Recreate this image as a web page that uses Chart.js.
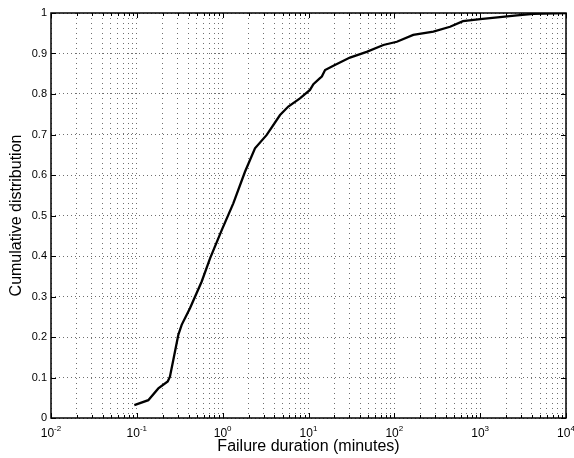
<!DOCTYPE html>
<html>
<head>
<meta charset="utf-8">
<script src="https://cdn.jsdelivr.net/npm/chart.js@4"></script>
<style>
  html, body { margin: 0; padding: 0; background: #fff; }
  #wrap { width: 574px; height: 458px; position: relative; }
</style>
</head>
<body>
<div id="wrap"><canvas id="cdfChart" width="574" height="458"></canvas></div>
<script>
const durations = [0.0935, 0.136, 0.178, 0.229, 0.243, 0.266, 0.304, 0.333, 0.416, 0.57,
  0.713, 0.975, 1.33, 1.82, 2.38, 3.26, 4.66, 5.82, 7.95, 10.4,
  11.4, 13.6, 14.3, 15.6, 19.5, 30.4, 47.6, 74.5, 107, 166,
  285, 446, 631, 1000, 1700, 2690, 4170, 10000];
const cdf = [0.032, 0.044, 0.073, 0.09, 0.102, 0.143, 0.205, 0.23, 0.271, 0.337,
  0.394, 0.464, 0.53, 0.608, 0.666, 0.699, 0.748, 0.769, 0.789, 0.81,
  0.824, 0.839, 0.843, 0.859, 0.87, 0.89, 0.904, 0.921, 0.929, 0.946,
  0.954, 0.966, 0.98, 0.985, 0.99, 0.994, 0.998, 1.0];

// x tick labels are 10 with these exponents
const decades = [-2, -1, 0, 1, 2, 3, 4];
const yTicks = [0, 0.1, 0.2, 0.3, 0.4, 0.5, 0.6, 0.7, 0.8, 0.9, 1];

const FONT = 'Arial, "Liberation Sans", Helvetica, sans-serif';

// black box round the plot, inward tick marks and the 10^n labels
const boxPlugin = {
  id: 'box',
  afterDatasetsDraw(chart) {
    const { ctx, chartArea: a, scales } = chart;
    ctx.save();
    ctx.strokeStyle = '#000';
    ctx.lineWidth = 1;
    ctx.beginPath();
    scales.x.ticks.forEach((t) => {
      const px = Math.round(scales.x.getPixelForValue(t.value)) + 0.5;
      const len = t.major ? 5 : 3;
      ctx.moveTo(px, a.bottom); ctx.lineTo(px, a.bottom - len);
      ctx.moveTo(px, a.top); ctx.lineTo(px, a.top + len);
    });
    yTicks.forEach((v) => {
      const py = Math.round(scales.y.getPixelForValue(v)) + 0.5;
      ctx.moveTo(a.left, py); ctx.lineTo(a.left + 5, py);
      ctx.moveTo(a.right, py); ctx.lineTo(a.right - 5, py);
    });
    ctx.stroke();
    ctx.lineWidth = 1.5;
    ctx.strokeRect(a.left, a.top, a.right - a.left, a.bottom - a.top);

    // tick labels with a raised exponent
    ctx.fillStyle = '#000';
    ctx.textBaseline = 'alphabetic';
    ctx.textAlign = 'left';
    decades.forEach((e) => {
      const px = scales.x.getPixelForValue(Math.pow(10, e));
      const exp = e < 0 ? '-' + Math.abs(e) : String(e);
      ctx.font = '12px ' + FONT;
      const wBase = ctx.measureText('10').width;
      ctx.font = '8px ' + FONT;
      const wExp = ctx.measureText(exp).width;
      const x0 = px - (wBase + wExp) / 2;
      ctx.font = '12px ' + FONT;
      ctx.fillText('10', x0, 437);
      ctx.font = '8px ' + FONT;
      ctx.fillText(exp, x0 + wBase, 431);
    });
    ctx.restore();
  }
};

const ctx = document.getElementById('cdfChart').getContext('2d');
new Chart(ctx, {
  type: 'scatter',
  data: {
    datasets: [{
      label: 'CDF',
      data: durations.map((d, i) => ({ x: d, y: cdf[i] })),
      showLine: true,
      borderColor: '#000',
      borderWidth: 2.3,
      pointRadius: 0,
      tension: 0,
    }]
  },
  options: {
    responsive: false,
    animation: false,
    layout: { padding: { top: 13, right: 8, left: 0, bottom: 0 } },
    plugins: { legend: { display: false }, tooltip: { enabled: false } },
    scales: {
      x: {
        type: 'logarithmic',
        min: 0.01,
        max: 10000,
        afterFit: (scale) => { scale.height = 40; },
        afterBuildTicks: (scale) => {
          const ticks = [];
          decades.forEach((e, i) => {
            ticks.push({ value: Math.pow(10, e), major: true });
            if (i < decades.length - 1) {
              for (let m = 2; m <= 9; m++) ticks.push({ value: m * Math.pow(10, e), major: false });
            }
          });
          scale.ticks = ticks;
        },
        ticks: { display: false, autoSkip: false },
        grid: {
          color: '#707070',
          lineWidth: 1,
          drawTicks: false,
        },
        border: { display: false, dash: [1, 4] },
        title: {
          display: true,
          text: 'Failure duration (minutes)',
          color: '#000',
          font: { family: FONT, size: 16 },
          padding: { top: 0, bottom: 2 }
        }
      },
      y: {
        min: 0,
        max: 1,
        afterFit: (scale) => { scale.width = 51; },
        afterBuildTicks: (scale) => { scale.ticks = yTicks.map((v) => ({ value: v })); },
        ticks: {
          color: '#000',
          padding: 4,
          font: { family: FONT, size: 11 },
          callback: (v) => String(Math.round(v * 10) / 10)
        },
        grid: {
          color: '#707070',
          lineWidth: 1,
          drawTicks: false,
        },
        border: { display: false, dash: [1, 3] },
        title: {
          display: true,
          text: 'Cumulative distribution',
          color: '#000',
          font: { family: FONT, size: 16 },
          padding: { top: 7, bottom: 0 }
        }
      }
    }
  },
  plugins: [boxPlugin]
});
</script>
</body>
</html>
